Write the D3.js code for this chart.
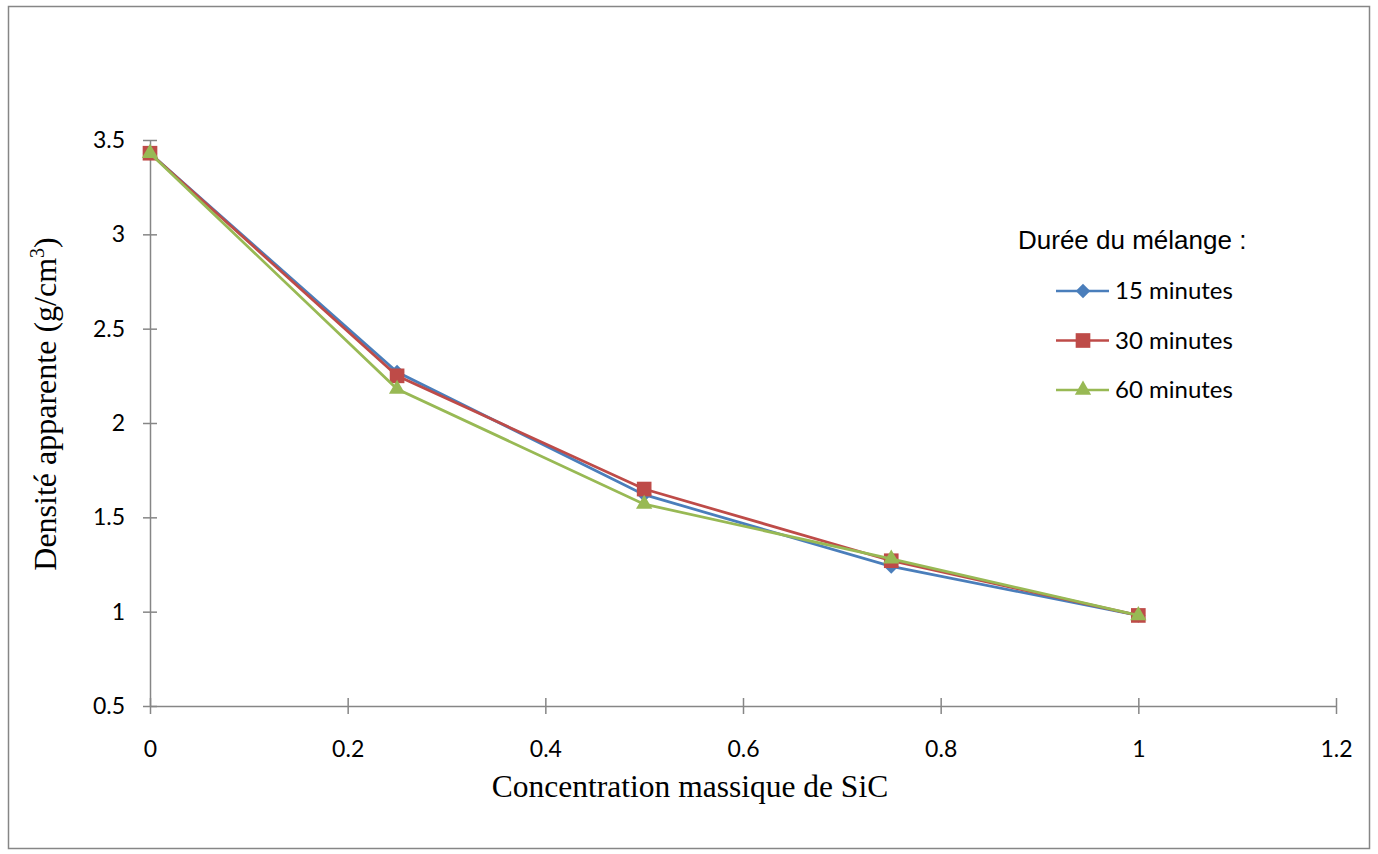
<!DOCTYPE html>
<html>
<head>
<meta charset="utf-8">
<script src="https://cdn.jsdelivr.net/npm/d3@7"></script>
<style>
  body { margin: 0; background: #fff; }
</style>
</head>
<body>
<div id="chart"></div>
<script>
// data
const concentrations = [0, 0.25, 0.5, 0.75, 1];
const min15 = [3.43, 2.27, 1.62, 1.24, 0.98];
const min30 = [3.43, 2.25, 1.65, 1.27, 0.98];
const min60 = [3.43, 2.18, 1.57, 1.28, 0.98];
const seriesNames = ["15 minutes", "30 minutes", "60 minutes"];
const xTicks = [0, 0.2, 0.4, 0.6, 0.8, 1, 1.2];
const yTicks = [0.5, 1, 1.5, 2, 2.5, 3, 3.5];

const W = 1378, H = 854;
const margin = { top: 140, right: 42, bottom: 148, left: 150 };
const width = W - margin.left - margin.right;
const height = H - margin.top - margin.bottom;

const svg = d3.select("#chart").append("svg")
  .attr("width", W)
  .attr("height", H);

// outer frame
svg.append("rect")
  .attr("x", 8.5).attr("y", 6.5)
  .attr("width", 1361).attr("height", 842)
  .attr("fill", "none")
  .attr("stroke", "#868686")
  .attr("stroke-width", 1.5);

const g = svg.append("g")
  .attr("transform", `translate(${margin.left},${margin.top})`);

const x = d3.scaleLinear().domain([0, 1.2]).range([0, width]);
const y = d3.scaleLinear().domain([0.5, 3.5]).range([height, 0]);

const tickFont = "Lato, 'Open Sans', sans-serif";

// x axis
const xAxis = g.append("g")
  .attr("transform", `translate(0,${height})`)
  .call(d3.axisBottom(x).tickValues(xTicks).tickFormat(d3.format("")).tickSizeInner(8).tickSizeOuter(0).tickPadding(27));
xAxis.selectAll(".tick line").attr("y1", -8);
xAxis.selectAll("text").attr("font-size", "23px").attr("font-family", tickFont).attr("fill", "#000");

// y axis
const yAxis = g.append("g")
  .call(d3.axisLeft(y).tickValues(yTicks).tickFormat(d3.format("")).tickSizeInner(7).tickSizeOuter(0).tickPadding(18));
yAxis.selectAll(".tick line").attr("x1", 7);
yAxis.selectAll("text").attr("font-size", "23px").attr("font-family", tickFont).attr("fill", "#000");

g.selectAll(".domain, .tick line").attr("stroke", "#868686").attr("stroke-width", 1.5);

// axis titles
svg.append("text")
  .attr("x", 690).attr("y", 797)
  .attr("text-anchor", "middle")
  .attr("font-family", "'Liberation Serif', serif")
  .attr("font-size", "31.5px")
  .text("Concentration massique de SiC");

const yTitle = svg.append("text")
  .attr("transform", "translate(56,404) rotate(-90)")
  .attr("text-anchor", "middle")
  .attr("font-family", "'Liberation Serif', serif")
  .attr("font-size", "32px");
yTitle.append("tspan").text("Densité apparente (g/cm");
yTitle.append("tspan").attr("font-size", "20px").attr("dy", "-12").text("3");
yTitle.append("tspan").attr("dy", "12").text(")");

// series
const series = [
  { name: seriesNames[0], values: min15, color: "#4a7ebb", symbol: d3.symbolSquare, size: 105, rotate: 45 },
  { name: seriesNames[1], values: min30, color: "#be4b48", symbol: d3.symbolSquare, size: 215, rotate: 0 },
  { name: seriesNames[2], values: min60, color: "#98b954", symbol: d3.symbolTriangle, size: 115, rotate: 0 }
];

const line = d3.line()
  .x((d, i) => x(concentrations[i]))
  .y(d => y(d));

series.forEach(s => {
  g.append("path")
    .datum(s.values)
    .attr("fill", "none")
    .attr("stroke", s.color)
    .attr("stroke-width", 2.75)
    .attr("d", line);

  g.selectAll(null)
    .data(s.values)
    .enter().append("path")
    .attr("transform", (d, i) => `translate(${x(concentrations[i])},${y(d)}) rotate(${s.rotate})`)
    .attr("d", d3.symbol().type(s.symbol).size(s.size))
    .attr("fill", s.color);
});

// legend
svg.append("text")
  .attr("x", 1018).attr("y", 249)
  .attr("font-family", "'Liberation Sans', Arial, sans-serif")
  .attr("font-size", "26px")
  .text("Durée du mélange :");

const legend = svg.append("g").attr("transform", "translate(1056,291)");
series.forEach((s, i) => {
  const row = legend.append("g").attr("transform", `translate(0,${i * 49.5})`);
  row.append("line")
    .attr("x1", 0).attr("x2", 53)
    .attr("stroke", s.color).attr("stroke-width", 2.5);
  row.append("path")
    .attr("transform", `translate(27,0) rotate(${s.rotate})`)
    .attr("d", d3.symbol().type(s.symbol).size(s.size))
    .attr("fill", s.color);
  row.append("text")
    .attr("x", 59).attr("y", 8)
    .attr("font-family", tickFont)
    .attr("font-size", "24px")
    .text(s.name);
});
</script>
</body>
</html>
